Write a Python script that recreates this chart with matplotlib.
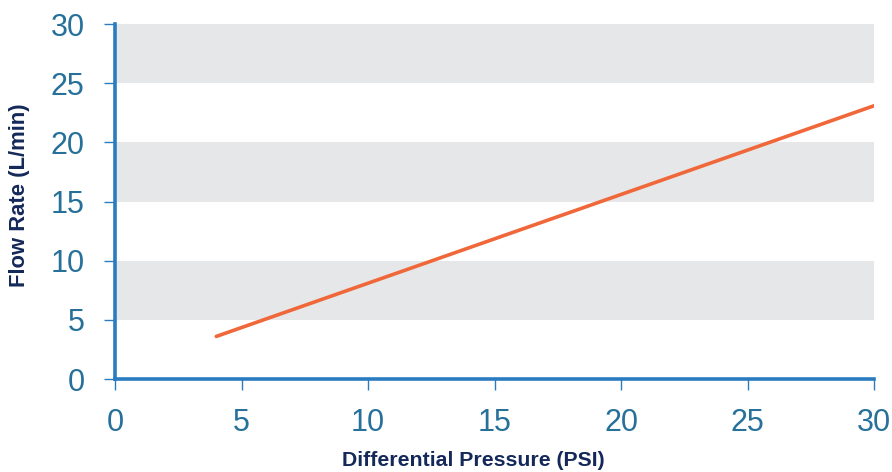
import matplotlib
matplotlib.use("Agg")
import matplotlib.pyplot as plt

pressure = [4, 30]
flow = [3.6, 23.1]
x_ticks = [0, 5, 10, 15, 20, 25, 30]
y_ticks = [0, 5, 10, 15, 20, 25, 30]
bands = [(5, 10), (15, 20), (25, 30)]

fig = plt.figure(figsize=(8.92, 4.72), dpi=100)
ax = fig.add_axes([0.129, 0.197, 0.851, 0.752])

for lo, hi in bands:
    ax.axhspan(lo, hi, color="#e6e7e9", lw=0, zorder=0)

ax.plot(pressure, flow, color="#f0683a", lw=2.6, solid_capstyle="round", zorder=3)

ax.set_xlim(0, 30)
ax.set_ylim(0, 30)
ax.set_xticks(x_ticks)
ax.set_yticks(y_ticks)

spine_c = "#2a7bbf"
for s in ["top", "right"]:
    ax.spines[s].set_visible(False)
for s in ["left", "bottom"]:
    ax.spines[s].set_color(spine_c)
    ax.spines[s].set_linewidth(2.6)
    ax.spines[s].set_zorder(4)

ax.tick_params(axis="x", colors=spine_c, length=8, width=1.0, pad=13,
               labelsize=22, labelcolor="#26709a")
ax.tick_params(axis="y", colors=spine_c, length=8, width=1.0, pad=14,
               labelsize=22, labelcolor="#26709a")
for lab in ax.get_xticklabels() + ax.get_yticklabels():
    lab.set_family("Liberation Sans")

ax.set_xlabel("Differential Pressure (PSI)", fontsize=15.3, fontweight="bold",
              color="#14295a", family="Liberation Sans")
ax.xaxis.set_label_coords(0.472, -0.203)
ax.set_ylabel("Flow Rate (L/min)", fontsize=15.8, fontweight="bold",
              color="#14295a", family="Liberation Sans")
ax.yaxis.set_label_coords(-0.112, 0.518)
ax.set_facecolor("white")

fig.savefig("out.png", dpi=100)
